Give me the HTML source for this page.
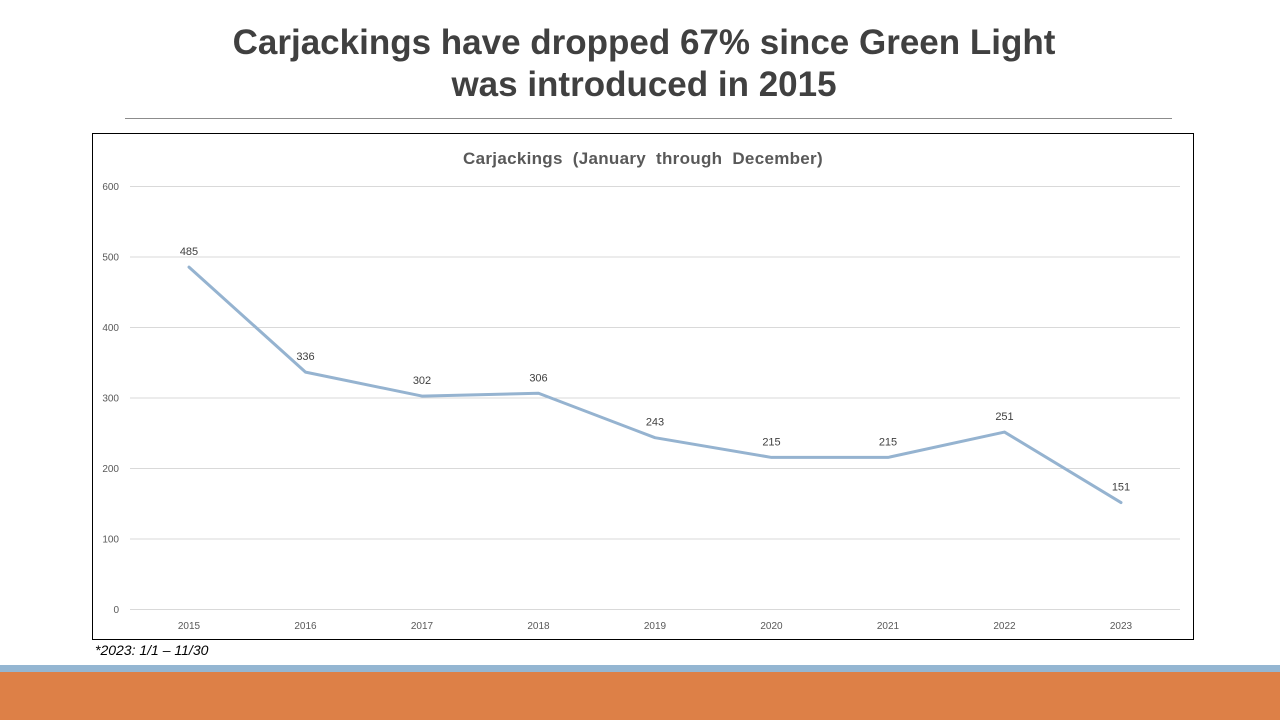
<!DOCTYPE html>
<html><head><meta charset="utf-8"><style>
html,body{margin:0;padding:0;width:1280px;height:720px;overflow:hidden;background:#fff;font-family:"Liberation Sans",sans-serif;}
#title{position:absolute;left:0;top:22px;width:1288px;text-align:center;font-weight:bold;font-size:35px;line-height:42px;color:#404040;letter-spacing:0px}
#rule{position:absolute;left:125px;top:118px;width:1047px;height:1px;background:#8c8c8c}
#foot{position:absolute;left:95px;top:642px;font-style:italic;font-size:14px;color:#000}
#blue{position:absolute;left:0;top:665px;width:1280px;height:7px;background:#94b6d2}
#orange{position:absolute;left:0;top:672px;width:1280px;height:48px;background:#dd8047}
svg{position:absolute;left:0;top:0}
</style></head><body>
<div id="title">Carjackings have dropped 67% since Green Light<br>was introduced in 2015</div>
<div id="rule"></div>
<svg id="chart" width="1280" height="720">
<rect x="92.5" y="133.5" width="1101" height="506" fill="#fff" stroke="#000" stroke-width="1"/>
<text x="643" y="164" text-anchor="middle" font-size="17" font-weight="bold" fill="#595959" word-spacing="5" letter-spacing="0.3">Carjackings  (January through December)</text>
<g id="grid"></g><g id="series"></g><g id="labels"></g>
</svg>
<div id="foot">*2023: 1/1 – 11/30</div>
<div id="blue"></div>
<div id="orange"></div>
<script>
const years=["2015","2016","2017","2018","2019","2020","2021","2022","2023"];
const values=[485,336,302,306,243,215,215,251,151];
const yTicks=[0,100,200,300,400,500,600];
const NS="http://www.w3.org/2000/svg";
const y=v=>609-v*(423/600);
const x=i=>189+i*116.5;
const grid=document.getElementById('grid'),ser=document.getElementById('series'),lab=document.getElementById('labels');
function mk(tag,attrs,parent,text){const e=document.createElementNS(NS,tag);for(const k in attrs)e.setAttribute(k,attrs[k]);if(text!=null)e.textContent=text;parent.appendChild(e);return e;}
yTicks.forEach(t=>{
 const l=mk('line',{x1:130,x2:1180,y1:y(t)+0.5,y2:y(t)+0.5,stroke:'#d9d9d9','stroke-width':1},grid);
 
 
 const tx=mk('text',{x:119,y:y(t)+4,'text-anchor':'end','font-size':10,fill:'#595959'},grid,String(t));
 
 
});
years.forEach((yr,i)=>{
 const tx=mk('text',{x:x(i),y:629,'text-anchor':'middle','font-size':10,fill:'#595959'},grid,yr);
 
 
});
const pts=values.map((v,i)=>x(i)+','+y(v)).join(' ');
const pl=mk('polyline',{points:pts,fill:'none',stroke:'#95b3d0','stroke-width':3,'stroke-linejoin':'round','stroke-linecap':'round'},ser);


values.forEach((v,i)=>{
 const tx=mk('text',{x:x(i),y:y(v)-12,'text-anchor':'middle','font-size':11,fill:'#404040'},lab,String(v));
 
 
});
</script>
</body></html>
